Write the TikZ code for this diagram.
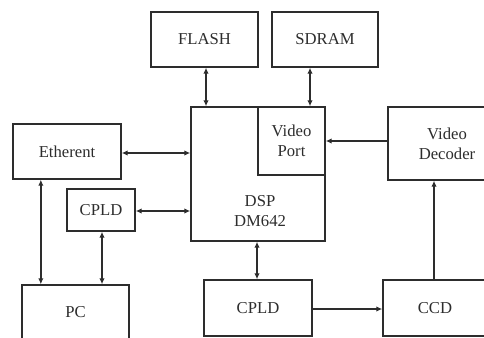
\documentclass[tikz,border=0pt]{standalone}
\usepackage{fontspec}
\setmainfont{Liberation Serif}
\usetikzlibrary{arrows.meta, positioning, calc}
\definecolor{ink}{RGB}{45,45,45}
\tikzset{
  block/.style={draw=ink, line width=1pt, text=ink, align=center,
                inner sep=0pt, font=\fontsize{12.5}{15}\selectfont},
  flow/.style={-{Latex[length=4.5pt,width=4pt]}, line width=1pt, ink},
  both/.style={{Latex[length=4.5pt,width=4pt]}-{Latex[length=4.5pt,width=4pt]}, line width=1pt, ink}
}
\begin{document}
\begin{tikzpicture}[x=0.75pt, y=-0.75pt]
  \clip (0,0) rectangle (484,338);
  \fill[white] (0,0) rectangle (484,338);
  % memories
  \node[block, minimum width=80.25pt, minimum height=41.25pt] (flash) at (204.5,39.5) {FLASH};
  \node[block, minimum width=79.5pt, minimum height=41.25pt] (sdram) at (325,39.5) {SDRAM};
  % processor
  \node[block, minimum width=100.5pt, minimum height=100.5pt] (dsp) at (258,174) {};
  \node[block, minimum width=50.25pt, minimum height=51pt, anchor=north east] (vport) at (dsp.north east) {Video\\Port};
  \node[ink, align=center, font=\fontsize{12.5}{15}\selectfont] (dsplbl) at (260,211) {DSP\\DM642};
  \node[block, minimum width=88.5pt, minimum height=54.75pt] (vdec) at (447,143.5) {Video\\Decoder};
  % left side
  \node[block, minimum width=81pt, minimum height=41.25pt] (ether) at (67,151.5) {Etherent};
  \node[block, minimum width=51pt, minimum height=31.5pt] (cpldl) at (101,210) {CPLD};
  \node[block, minimum width=80.25pt, minimum height=40.5pt] (pc) at (75.5,312) {PC};
  % bottom row
  \node[block, minimum width=81pt, minimum height=42pt] (cpldb) at (258,308) {CPLD};
  \node[block, minimum width=78pt, minimum height=42pt] (ccd) at (435,308) {CCD};

  \draw[both] ($(flash.south)+(1.5,0)$) -- ($(flash.south |- dsp.north)+(1.5,0)$);
  \draw[both] ($(sdram.south)+(-15,0)$) -- ($(sdram.south |- dsp.north)+(-15,0)$);
  \draw[both] ($(ether.east)+(0,1.5)$) -- ($(ether.east -| dsp.west)+(0,1.5)$);
  \draw[both] ($(cpldl.east)+(0,1)$) -- ($(cpldl.east -| dsp.west)+(0,1)$);
  \draw[flow] (vdec.west |- vport.east) -- (vport.east);
  \draw[both] ($(ether.south west)+(28.5,0)$) -- ($(ether.south west |- pc.north)+(28.5,0)$);
  \draw[both] ($(cpldl.south)+(1,0)$) -- ($(cpldl.south |- pc.north)+(1,0)$);
  \draw[both] ($(dsp.south)+(-1,0)$) -- ($(cpldb.north)+(-1,0)$);
  \draw[flow] ($(cpldb.east)+(0,1)$) -- ($(ccd.west)+(0,1)$);
  \draw[flow] ($(ccd.north)+(-1,0)$) -- ($(ccd.north |- vdec.south)+(-1,0)$);
\end{tikzpicture}
\end{document}
